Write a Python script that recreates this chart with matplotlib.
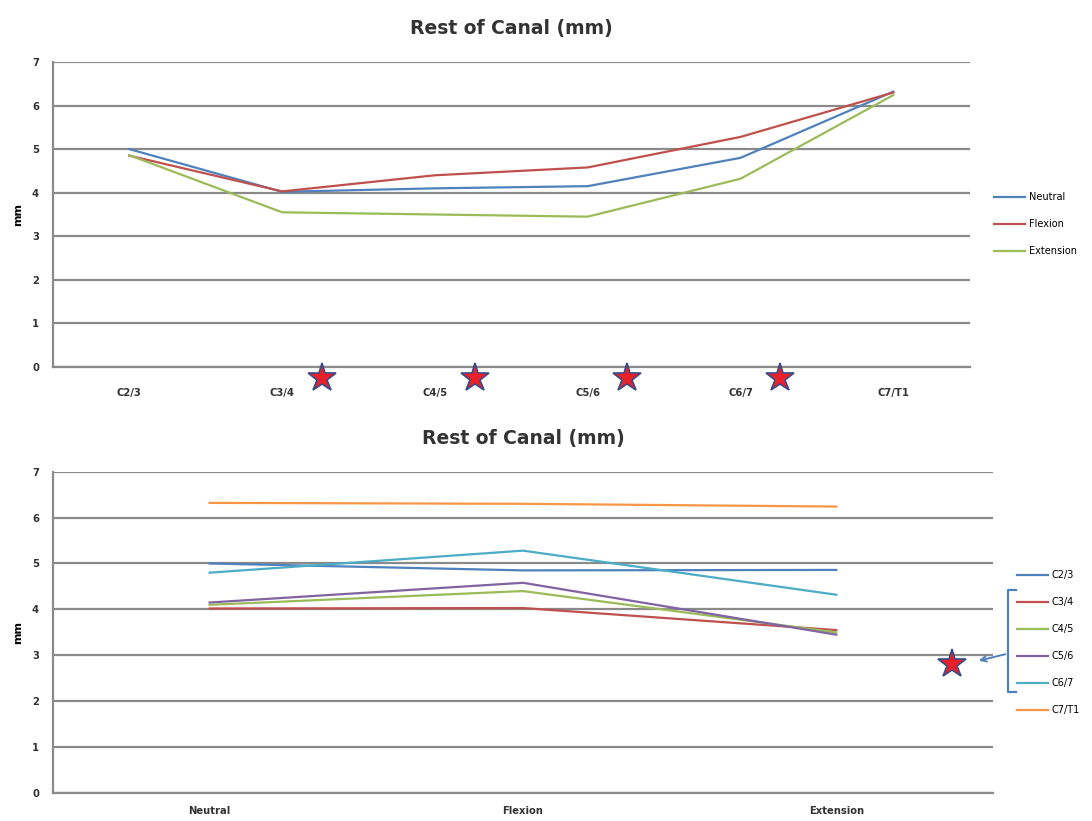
import numpy as np
import matplotlib
matplotlib.use("Agg")
import matplotlib.pyplot as plt

# data (mm)
levels = ["C2/3", "C3/4", "C4/5", "C5/6", "C6/7", "C7/T1"]
positions = ["Neutral", "Flexion", "Extension"]
neutral = [5.0, 4.02, 4.1, 4.15, 4.8, 6.32]
flexion = [4.85, 4.03, 4.4, 4.58, 5.28, 6.3]
extension = [4.86, 3.55, 3.5, 3.45, 4.32, 6.24]
starred = ["C3/4", "C4/5", "C5/6", "C6/7"]   # significant levels

level_colors = ["#4F81BD", "#C0504D", "#9BBB59", "#8064A2", "#4BACC6", "#F79646"]
grid_c = "#8a8a8a"

plt.rcParams['font.family'] = ['DejaVu Sans']

fig = plt.figure(figsize=(10.92, 8.21), dpi=100)
ax1 = fig.add_axes([0.0485, 0.553, 0.8395, 0.3715])
ax2 = fig.add_axes([0.0485, 0.034, 0.8608, 0.3915])


def style(ax, ncat, xpad):
    ax.set_ylim(0, 7)
    ax.set_xlim(-0.5, ncat - 0.5)
    ax.set_yticks(range(8))
    ax.yaxis.grid(True, color=grid_c, lw=1.6)
    ax.set_axisbelow(True)
    for s in ["top", "right"]:
        ax.spines[s].set_visible(False)
    for s in ["left", "bottom"]:
        ax.spines[s].set_color(grid_c)
        ax.spines[s].set_linewidth(1.6)
    ax.tick_params(length=0, labelsize=7.2)
    ax.tick_params(axis="y", pad=10)
    ax.tick_params(axis="x", pad=xpad)
    for t in ax.get_xticklabels() + ax.get_yticklabels():
        t.set_fontweight("bold")
        t.set_color("#333333")
    ax.set_ylabel("mm", fontsize=8, fontweight="bold", labelpad=6)
    ax.set_title("Rest of Canal (mm)", fontsize=13.5, fontweight="bold",
                 color="#333333", pad=20)


# top panel: level on x, one line per neck position
x1 = np.arange(len(levels))
ax1.plot(x1, neutral, color=level_colors[0], lw=1.6, label="Neutral")
ax1.plot(x1, flexion, color=level_colors[1], lw=1.6, label="Flexion")
ax1.plot(x1, extension, color=level_colors[2], lw=1.6, label="Extension")
ax1.set_xticks(x1)
ax1.set_xticklabels(levels)
style(ax1, len(levels), 15)
for lv in starred:
    i = levels.index(lv)
    ax1.plot(i + 0.26, -0.25, marker="*", ms=21, color="#e8202a",
             mec="#3b4a85", mew=1.2, clip_on=False, zorder=5)
ax1.legend(loc="center left", bbox_to_anchor=(0.902, 0.727),
           bbox_transform=fig.transFigure, frameon=False, fontsize=7,
           handlelength=3.2, labelspacing=1.75, handletextpad=0.4)

# bottom panel: position on x, one line per level
table = np.array([neutral, flexion, extension])
x2 = np.arange(len(positions))
for j, lv in enumerate(levels):
    ax2.plot(x2, table[:, j], color=level_colors[j], lw=1.6, label=lv)
ax2.set_xticks(x2)
ax2.set_xticklabels(positions)
style(ax2, len(positions), 9)
ax2.plot(2.37, 2.82, marker="*", ms=21, color="#e8202a",
         mec="#3b4a85", mew=1.2, zorder=5)
ax2.legend(loc="center left", bbox_to_anchor=(0.923, 0.217),
           bbox_transform=fig.transFigure, frameon=False, fontsize=7,
           handlelength=3.2, labelspacing=1.75, handletextpad=0.4)

# bracket + arrow pointing at the star
ax2.plot([1.024, 1.016, 1.016, 1.024], [0.632, 0.632, 0.316, 0.316],
         transform=ax2.transAxes, color="#4F81BD", lw=1.6, clip_on=False)
ax2.annotate("", xy=(0.982, 0.41), xytext=(1.016, 0.434),
             xycoords="axes fraction", textcoords="axes fraction",
             arrowprops=dict(arrowstyle="->", color="#4F81BD", lw=1.4))

fig.savefig("out.png", dpi=100, facecolor="white")
